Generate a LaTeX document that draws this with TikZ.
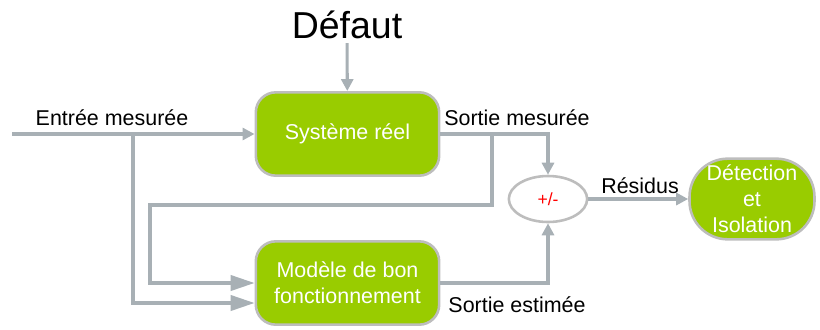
\documentclass[tikz,border=0pt]{standalone}
\usepackage{fontspec}
\setmainfont{Liberation Sans}
\usetikzlibrary{shapes.geometric,arrows.meta}
\definecolor{boxgreen}{HTML}{99CC00}
\definecolor{linegray}{HTML}{A8B0B5}
\definecolor{bordergray}{HTML}{BDBDBD}
\begin{document}
\begin{tikzpicture}[x=0.03cm, y=-0.03cm,
  box_style/.style={rectangle, rounded corners=0.6cm, draw=bordergray, line width=2.2pt, fill=boxgreen, text=white, minimum width=5.5cm, minimum height=2.5cm, align=center, font=\fontsize{18.3}{22.2}\selectfont},
  sum_style/.style={ellipse, draw=bordergray, line width=2.2pt, fill=white, text=red, minimum width=2.35cm, minimum height=1.38cm, inner sep=0pt, font=\fontsize{15}{18}\selectfont},
  fdi_style/.style={box_style, rounded corners=1.15cm, minimum width=3.75cm, minimum height=2.42cm, inner sep=0pt},
  label_style/.style={font=\fontsize{18.3}{22.2}\selectfont},
  edge_style/.style={draw=linegray, line width=2.6pt, -{Triangle[length=0.36cm,width=0.36cm]}},
  big_edge_style/.style={edge_style, -{Triangle[length=0.72cm,width=0.46cm]}}]
  \useasboundingbox (0,0) rectangle (820,329);
  \draw
    (347.5,134) node[box_style] (sys){Système réel}
    (347.5,283) node[box_style] (model){Modèle de bon\\fonctionnement}
    (548,199) node[sum_style] (sum){+/-}
    (752,199) node[fdi_style] (fdi){Détection\\et\\Isolation}
    (347,25) node[font=\fontsize{32}{38}\selectfont] (fault){Défaut}
    (112,118) node[label_style] (in_lbl){Entrée mesurée}
    (517,118) node[label_style] (out_lbl){Sortie mesurée}
    (517,305) node[label_style] (est_lbl){Sortie estimée}
    (640,186) node[label_style] (res_lbl){Résidus};
  \coordinate (in) at (12,134);
  \coordinate (split_in) at (133,134);
  \coordinate (split_out) at (492,134);
  \coordinate (loop_left) at (150,205);
  \begin{scope}
    \draw[edge_style] (fault) to (sys);
    \draw[edge_style] (in) to (sys.west);
    \draw[big_edge_style] (split_in) |- ([yshift=-0.6cm]model.west);
    \draw[big_edge_style] (split_out) |- (loop_left) |- (model.west);
    \draw[edge_style] (sys.east) -| (sum.north);
    \draw[edge_style] (model.east) -| (sum.south);
    \draw[edge_style] (sum) to (fdi);
  \end{scope}
\end{tikzpicture}
\end{document}
